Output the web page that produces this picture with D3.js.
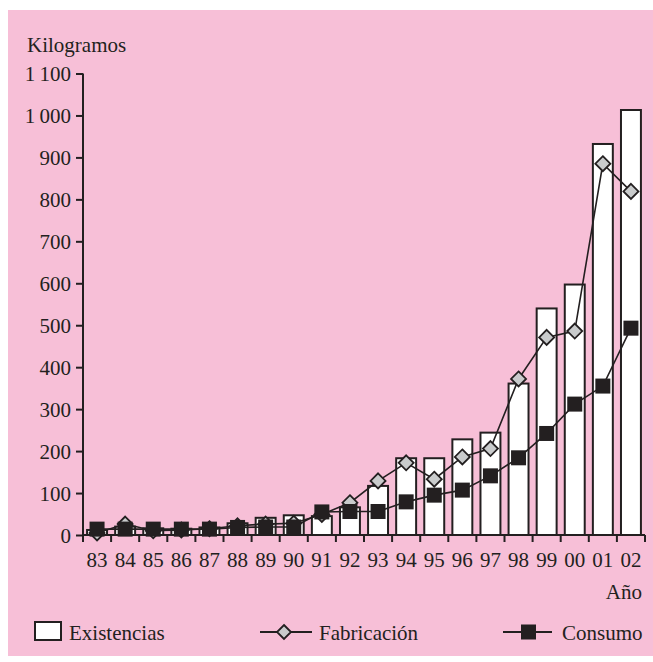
<!DOCTYPE html>
<html>
<head>
<meta charset="utf-8">
<script src="https://cdn.jsdelivr.net/npm/d3@7"></script>
<style>
  html, body { margin: 0; padding: 0; background: #ffffff; }
  svg { display: block; }
</style>
</head>
<body>
<svg id="chart" width="653" height="662"></svg>
<script>
const years = ["83","84","85","86","87","88","89","90","91","92","93","94","95","96","97","98","99","00","01","02"];
const existencias = [12, 20, 16, 15, 18, 28, 41, 47, 45, 66, 117, 183, 183, 228, 244, 361, 540, 597, 932, 1013];
const fabricacion = [5, 26, 10, 12, 15, 22, 26, 28, 49, 77, 129, 172, 133, 186, 206, 372, 471, 486, 885, 819];
const consumo = [14, 14, 14, 14, 14, 18, 19, 19, 55, 56, 56, 79, 95, 107, 141, 184, 242, 312, 355, 493];
const yTicks = [0, 100, 200, 300, 400, 500, 600, 700, 800, 900, 1000, 1100];
const yTitle = "Kilogramos";
const xTitle = "Año";
const legendLabels = ["Existencias", "Fabricación", "Consumo"];

const FONT = "'Liberation Serif', serif";
const FS = 21;
const ink = "#231f20";
const svg = d3.select("#chart");

svg.append("rect").attr("x", 8).attr("y", 10).attr("width", 645).attr("height", 646).attr("fill", "#f7bfd7");

const x = d3.scaleBand().domain(years).range([83, 645]).paddingInner(0.29).paddingOuter(0.145);
const y = d3.scaleLinear().domain([0, 1100]).range([535, 73.5]);
const step = x.step();
const cx = d => x(d) + x.bandwidth() / 2;

// bars
svg.append("g").selectAll("rect").data(years).join("rect")
  .attr("x", d => x(d))
  .attr("y", (d, i) => y(existencias[i]))
  .attr("width", x.bandwidth())
  .attr("height", (d, i) => y(0) - y(existencias[i]))
  .attr("fill", "#ffffff").attr("stroke", ink).attr("stroke-width", 2);

// y axis
const yAxis = d3.axisLeft(y).tickValues(yTicks).tickSize(7).tickPadding(5)
  .tickFormat(v => v >= 1000 ? d3.format(",")(v).replace(",", "\u2009") : String(v));
const gy = svg.append("g").attr("transform", "translate(83,0)").call(yAxis);
gy.attr("font-family", FONT).attr("font-size", FS);
gy.select(".domain").attr("stroke", ink).attr("stroke-width", 2).attr("d", `M0,${y(1100)}V${y(0)}`);
gy.selectAll(".tick line").attr("stroke", ink).attr("stroke-width", 2);
gy.selectAll(".tick text").attr("fill", ink).attr("dy", "0.34em");

// x axis
const gx = svg.append("g").attr("transform", `translate(0,${y(0)})`);
gx.append("line").attr("x1", 82).attr("x2", 645).attr("y1", 0).attr("y2", 0).attr("stroke", ink).attr("stroke-width", 2);
const bounds = d3.range(years.length + 1).map(i => x.range()[0] + i * step);
gx.selectAll("line.tk").data(bounds).join("line").attr("class", "tk")
  .attr("x1", d => d).attr("x2", d => d).attr("y1", 0).attr("y2", 7)
  .attr("stroke", ink).attr("stroke-width", 2);
gx.selectAll("text").data(years).join("text")
  .attr("x", d => cx(d)).attr("y", 32).attr("text-anchor", "middle")
  .attr("font-size", FS).attr("font-family", FONT).attr("fill", ink).text(d => d);

// lines
const line = d3.line().x(d => cx(d[0])).y(d => y(d[1]));
const diamond = (s) => `M0,${-s}L${s},0L0,${s}L${-s},0Z`;

svg.append("path").datum(years.map((d, i) => [d, fabricacion[i]]))
  .attr("d", line).attr("fill", "none").attr("stroke", ink).attr("stroke-width", 1.6);
svg.append("g").selectAll("path").data(years).join("path")
  .attr("transform", (d, i) => `translate(${cx(d)},${y(fabricacion[i])})`)
  .attr("d", diamond(7.5)).attr("fill", "#c9cbcc").attr("stroke", ink).attr("stroke-width", 1.8);

svg.append("path").datum(years.map((d, i) => [d, consumo[i]]))
  .attr("d", line).attr("fill", "none").attr("stroke", ink).attr("stroke-width", 1.6);
svg.append("g").selectAll("rect").data(years).join("rect")
  .attr("x", d => cx(d) - 7.5).attr("y", (d, i) => y(consumo[i]) - 7.5)
  .attr("width", 15).attr("height", 15).attr("fill", ink);

// titles
const txt = (xx, yy, s, anchor) => svg.append("text").attr("x", xx).attr("y", yy)
  .attr("text-anchor", anchor || "start").attr("fill", ink)
  .attr("font-size", FS).attr("font-family", FONT).text(s);
txt(27, 52, yTitle);
txt(642, 599, xTitle, "end");

// legend
const ly = 632;
svg.append("rect").attr("x", 35).attr("y", 622).attr("width", 26).attr("height", 18)
  .attr("fill", "#ffffff").attr("stroke", ink).attr("stroke-width", 2);
txt(69, 640, legendLabels[0]);

svg.append("line").attr("x1", 260).attr("x2", 312).attr("y1", ly).attr("y2", ly).attr("stroke", ink).attr("stroke-width", 2);
svg.append("path").attr("transform", `translate(284,${ly})`).attr("d", diamond(7)).attr("fill", "#c9cbcc").attr("stroke", ink).attr("stroke-width", 1.8);
txt(319, 640, legendLabels[1]);

svg.append("line").attr("x1", 503).attr("x2", 552).attr("y1", ly).attr("y2", ly).attr("stroke", ink).attr("stroke-width", 2);
svg.append("rect").attr("x", 521).attr("y", ly - 7.5).attr("width", 15).attr("height", 15).attr("fill", ink);
txt(562, 640, legendLabels[2]);
</script>
</body>
</html>
